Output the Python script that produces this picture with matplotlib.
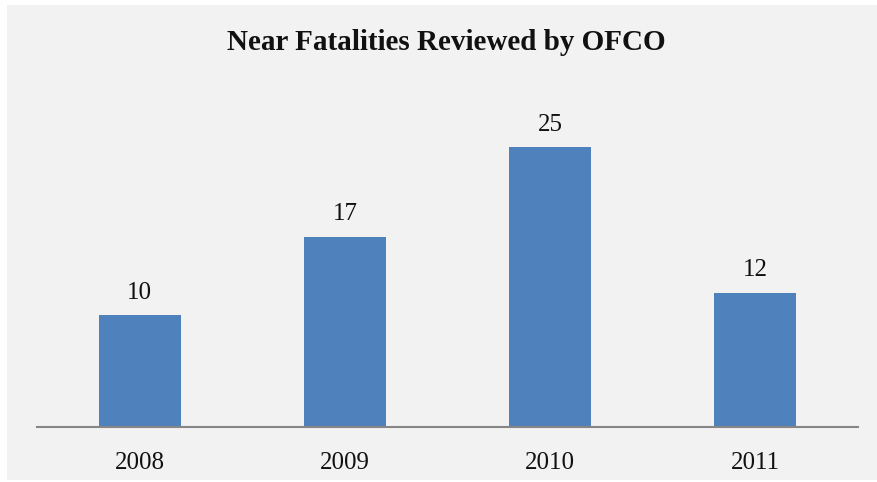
import matplotlib
matplotlib.use("Agg")
import matplotlib.pyplot as plt
from matplotlib.patches import Rectangle

years = ["2008", "2009", "2010", "2011"]
near_fatalities = [10, 17, 25, 12]

W, H = 877, 482
fig = plt.figure(figsize=(W / 100, H / 100), dpi=100)
fig.patch.set_facecolor("white")

# light gray chart area
fig.add_artist(Rectangle((7 / W, 2 / H), (W - 7) / W, (H - 7) / H,
                         transform=fig.transFigure, facecolor="#f2f2f2",
                         edgecolor="none", zorder=0))

ax = fig.add_axes([37 / W, (H - 427) / H, (858 - 37) / W, 336 / H])
ax.set_facecolor("none")

x = range(len(years))
bars = ax.bar(x, near_fatalities, width=0.4, color="#4f81bd", zorder=2)
ax.set_xlim(-0.5, len(years) - 0.5)
ax.set_ylim(0, 30)

for spine in ["top", "right", "left"]:
    ax.spines[spine].set_visible(False)
ax.spines["bottom"].set_color("#868686")
ax.spines["bottom"].set_linewidth(1.5)
ax.set_yticks([])
ax.set_xticks(list(x))
ax.set_xticklabels(years, fontsize=18, family="Liberation Serif", color="#111111")
ax.tick_params(axis="x", length=0, pad=18)

for xi, v in zip(x, near_fatalities):
    ax.annotate(str(v), (xi, v), xytext=(0, 8), textcoords="offset points",
                ha="center", va="bottom", fontsize=18,
                family="Liberation Serif", color="#111111")

fig.text(446 / W, 1 - 43 / H, "Near Fatalities Reviewed by OFCO",
         ha="center", va="center", fontsize=21, fontweight="bold",
         family="Liberation Serif", color="#111111")

fig.savefig("out.png", dpi=100)
